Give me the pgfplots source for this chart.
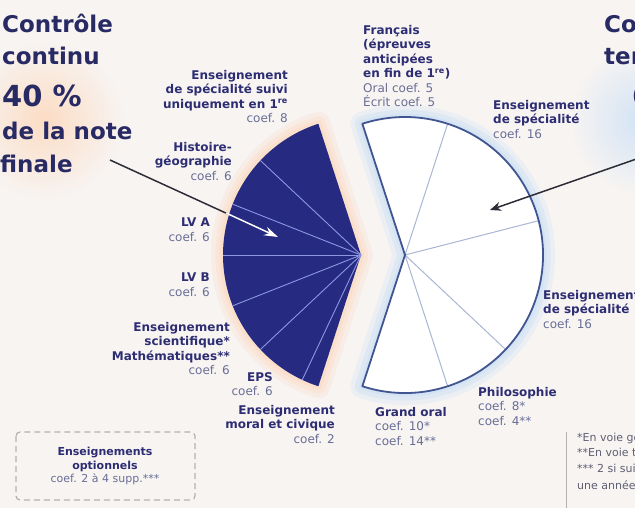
\documentclass[border=0pt]{standalone}
\usepackage{fontspec}
\setmainfont{DejaVu Sans}
\usepackage{pgfplots}
\usepackage{pgfplotstable}
\pgfplotsset{compat=1.18}
\usetikzlibrary{arrows.meta}

\definecolor{bg}{RGB}{247,244,242}
\definecolor{navyfill}{RGB}{38,42,128}
\definecolor{navyline}{RGB}{140,150,225}
\definecolor{rborder}{RGB}{65,85,145}
\definecolor{rline}{RGB}{170,182,212}
\definecolor{peach}{RGB}{252,220,196}
\definecolor{skyglow}{RGB}{208,226,245}
\definecolor{titlenavy}{RGB}{40,42,100}
\definecolor{labnavy}{RGB}{45,45,115}
\definecolor{coefgray}{RGB}{105,110,150}
\definecolor{notegray}{RGB}{95,95,115}
\definecolor{arrowdark}{RGB}{45,45,55}

% coefficients, counter-clockwise
\pgfplotstableread{
subject coef
GrandOral 10
Philosophie 8
Specialite 16
Specialite 16
Francais 10
}\coefterminal
\pgfplotstableread{
subject coef
Specialite1re 8
HistoireGeo 6
LVA 6
LVB 6
EnsScientifique 6
EPS 6
EMC 2
}\coefcontinu

% 100 coefficients = 360 degrees
\newcommand\pieslices[5]{% table, apex x, start angle, fill, separator style
  \pgfplotstablegetrowsof{#1}\pgfmathtruncatemacro\nrows{\pgfplotsretval-1}%
  \pgfmathsetmacro\angA{#3}%
  \pgfplotsforeachungrouped \i in {0,...,\nrows}{%
    \pgfplotstablegetelem{\i}{coef}\of#1%
    \pgfmathsetmacro\angB{\angA+3.6*\pgfplotsretval}%
    \edef\temp{\noexpand\fill[#4] (axis cs:#2,255) -- ++(\angA:138pt) arc[start angle=\angA,end angle=\angB,radius=138pt] -- cycle;}\temp
    \ifnum\i>0 \edef\temp{\noexpand\draw[#5] (axis cs:#2,255) -- ++(\angA:138pt);}\temp\fi
    \let\angA\angB}%
}
\newcommand\pieoutline[4]{% table, apex x, start angle, style
  \pgfplotstablegetrowsof{#1}\pgfmathtruncatemacro\nrows{\pgfplotsretval-1}%
  \pgfmathsetmacro\angE{#3}%
  \pgfplotsforeachungrouped \i in {0,...,\nrows}{%
    \pgfplotstablegetelem{\i}{coef}\of#1%
    \pgfmathsetmacro\angE{\angE+3.6*\pgfplotsretval}}%
  \edef\temp{\noexpand\draw[#4] (axis cs:#2,255) -- ++(#3:138pt) arc[start angle=#3,end angle=\angE,radius=138pt] -- cycle;}\temp
}

\newcommand\coef[1]{{\mdseries\color{coefgray}#1}}
\tikzset{
  lab/.style={inner sep=0pt, font=\fontsize{12}{14.5}\selectfont\bfseries, text=labnavy},
  big/.style={inner sep=0pt, anchor=base west, font=\fontsize{23}{28}\selectfont\bfseries, text=titlenavy},
  note/.style={inner sep=0pt, anchor=base west, font=\fontsize{11}{13}\selectfont, text=notegray}
}

\begin{document}
\begin{tikzpicture}
\useasboundingbox (0,0) rectangle (635pt,508pt);
\clip (0,0) rectangle (635pt,508pt);
\fill[bg] (0,0) rectangle (635pt,508pt);
\begin{axis}[at={(0pt,0pt)}, anchor=south west,
    x=1pt, y=1pt, xmin=0, xmax=635, ymin=0, ymax=508, y dir=reverse,
    hide axis, clip=false]

\shade[inner color=peach, outer color=bg] (axis cs:45,120) circle[radius=80pt];
\shade[inner color=skyglow, outer color=bg] (axis cs:645,120) circle[radius=75pt];

% glows
\pieoutline\coefcontinu{361}{108}{peach, line width=24pt, opacity=0.25, line join=round}
\pieoutline\coefcontinu{361}{108}{peach, line width=15pt, opacity=0.4, line join=round}
\pieoutline\coefcontinu{361}{108}{peach, line width=7pt, opacity=0.6, line join=round}
\pieoutline\coefterminal{405}{-108}{skyglow, line width=24pt, opacity=0.3, line join=round}
\pieoutline\coefterminal{405}{-108}{skyglow, line width=15pt, opacity=0.45, line join=round}
\pieoutline\coefterminal{405}{-108}{skyglow, line width=7pt, opacity=0.6, line join=round}

% slices
\pieslices\coefcontinu{361}{108}{navyfill}{navyline, line width=0.9pt}
\pieslices\coefterminal{405}{-108}{white}{rline, line width=1pt}
\pieoutline\coefterminal{405}{-108}{rborder, line width=1.8pt, line join=round}

% titles
\node[big] at (axis cs:2,33) {Contrôle};
\node[big] at (axis cs:2,65) {continu};
\node[big, font=\fontsize{29}{34}\selectfont\bfseries] at (axis cs:2,107) {40 \%};
\node[big] at (axis cs:2,140) {de la note};
\node[big] at (axis cs:0,173) {finale};
\node[big] at (axis cs:604,33) {Contrôle};
\node[big] at (axis cs:604,65) {terminal};
\node[big, font=\fontsize{29}{34}\selectfont\bfseries] at (axis cs:632,107) {60 \%};

% left labels
\node[lab, anchor=north east, align=right] at (axis cs:288,70) {Enseignement\\de spécialité suivi\\uniquement en 1\textsuperscript{re}\\\coef{coef. 8}};
\node[lab, anchor=north east, align=right] at (axis cs:232,142) {Histoire-\\géographie\\\coef{coef. 6}};
\node[lab, anchor=north east, align=right] at (axis cs:210,218) {LV A\\\coef{coef. 6}};
\node[lab, anchor=north east, align=right] at (axis cs:210,273) {LV B\\\coef{coef. 6}};
\node[lab, anchor=north east, align=right] at (axis cs:230,322) {Enseignement\\scientifique*\\Mathématiques**\\\coef{coef. 6}};
\node[lab, anchor=north east, align=right] at (axis cs:273,372) {EPS\\\coef{coef. 6}};
\node[lab, anchor=north east, align=right] at (axis cs:335,405) {Enseignement\\moral et civique\\\coef{coef. 2}};

% right labels
\node[lab, anchor=north west, align=left] at (axis cs:363,25) {Français\\(épreuves\\anticipées\\en fin de 1\textsuperscript{re})\\\coef{Oral coef. 5}\\\coef{Écrit coef. 5}};
\node[lab, anchor=north west, align=left] at (axis cs:493,100) {Enseignement\\de spécialité\\\coef{coef. 16}};
\node[lab, anchor=north west, align=left] at (axis cs:543,290) {Enseignement\\de spécialité\\\coef{coef. 16}};
\node[lab, anchor=north west, align=left] at (axis cs:478,387) {Philosophie\\\coef{coef. 8*}\\\coef{coef. 4**}};
\node[lab, anchor=north west, align=left] at (axis cs:375,407) {Grand oral\\\coef{coef. 10*}\\\coef{coef. 14**}};

% arrows
\draw[arrowdark, line width=1.5pt] (axis cs:110,160) -- (axis cs:228,214);
\draw[white, line width=1.5pt, -{Stealth[length=14pt, width=9pt]}] (axis cs:226,213) -- (axis cs:278,237);
\draw[arrowdark, line width=1.5pt, -{Stealth[length=11pt, width=9pt]}] (axis cs:645,156) -- (axis cs:490,210);

% optional courses box
\draw[gray!60, line width=1.2pt, dash pattern=on 6pt off 4pt, rounded corners=4pt] (axis cs:16,432) rectangle (axis cs:195,500);
\node[inner sep=0pt, align=center, font=\fontsize{11}{13.5}\selectfont\bfseries, text=labnavy] at (axis cs:105,466) {Enseignements\\optionnels\\\coef{coef. 2 à 4 supp.***}};

% footnotes
\draw[gray!60, line width=1pt] (axis cs:566,432) -- (axis cs:566,510);
\node[note] at (axis cs:577,441) {*En voie générale};
\node[note] at (axis cs:577,456) {**En voie technologique};
\node[note] at (axis cs:577,472) {*** 2 si suivis sur};
\node[note] at (axis cs:577,489) {une année};
\end{axis}
\end{tikzpicture}
\end{document}
